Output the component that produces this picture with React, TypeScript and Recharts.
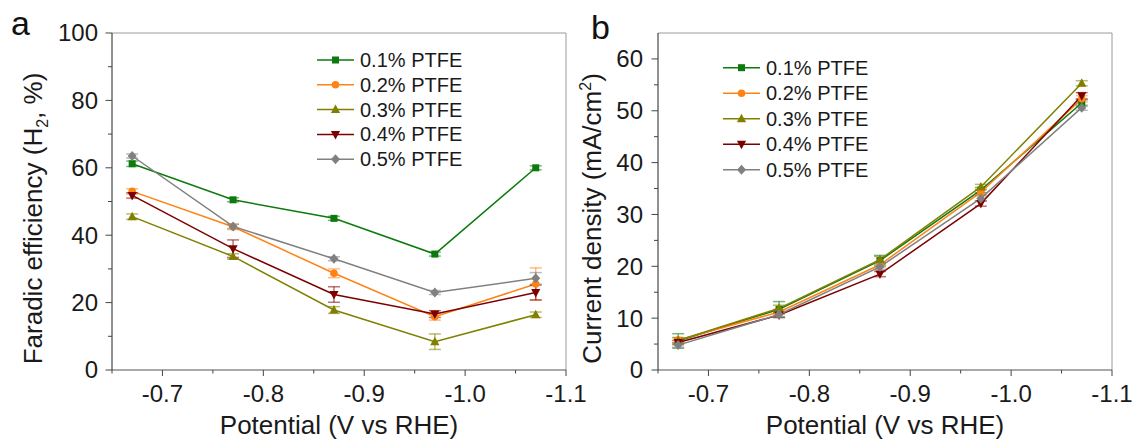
import { ErrorBar, Line, LineChart, ReferenceLine, XAxis, YAxis } from "recharts";

const FONT = "Arial, 'Liberation Sans', sans-serif";

const POTENTIAL = [-0.67, -0.77, -0.87, -0.97, -1.07];
const SERIES_NAMES = ["0.1% PTFE", "0.2% PTFE", "0.3% PTFE", "0.4% PTFE", "0.5% PTFE"];
const COLORS = ["#0c7a0c", "#ff8214", "#808000", "#7d0000", "#808080"];
const SHAPES = ["square", "circle", "triangle", "triangleDown", "diamond"];

// faradic efficiency of H2 (%)
const FE_01 = [61.2, 50.5, 45.0, 34.4, 60.0];
const FE_02 = [53.0, 42.5, 28.7, 15.8, 25.5];
const FE_03 = [45.5, 33.7, 17.8, 8.4, 16.4];
const FE_04 = [51.8, 36.0, 22.4, 16.6, 23.0];
const FE_05 = [63.5, 42.6, 33.0, 23.0, 27.2];
const FE_ERR_01 = [0.8, 0.6, 0.6, 0.6, 0.6];
const FE_ERR_02 = [0.8, 0.8, 1.3, 1.0, 4.8];
const FE_ERR_03 = [0.8, 0.8, 1.0, 2.3, 0.8];
const FE_ERR_04 = [0.8, 2.6, 2.3, 1.0, 2.2];
const FE_ERR_05 = [0.6, 0.6, 0.6, 0.6, 1.7];

// current density (mA/cm2)
const J_01 = [5.6, 11.7, 21.1, 34.7, 51.5];
const J_02 = [5.8, 11.2, 20.3, 34.3, 52.3];
const J_03 = [5.7, 11.9, 21.3, 35.3, 55.3];
const J_04 = [5.3, 10.6, 18.5, 32.1, 52.9];
const J_05 = [4.8, 10.7, 19.9, 33.1, 50.6];
const J_ERR_01 = [1.4, 1.5, 1.0, 0.5, 0.6];
const J_ERR_02 = [0.5, 0.5, 0.5, 0.5, 0.6];
const J_ERR_03 = [0.5, 0.6, 0.6, 0.5, 0.5];
const J_ERR_04 = [0.4, 0.5, 0.5, 0.5, 0.6];
const J_ERR_05 = [0.4, 0.5, 0.5, 0.5, 0.5];

const X_TICKS = [-0.65, -0.7, -0.75, -0.8, -0.85, -0.9, -0.95, -1.0, -1.05, -1.1];
const FE_TICKS = [0, 10, 20, 30, 40, 50, 60, 70, 80, 90, 100];
const J_TICKS = [0, 5, 10, 15, 20, 25, 30, 35, 40, 45, 50, 55, 60];

function buildRows(values: number[][], errors: number[][]) {
  return POTENTIAL.map((v, i) => {
    const row: Record<string, number> = { v };
    values.forEach((s, k) => {
      row[`s${k}`] = s[i];
      row[`e${k}`] = errors[k][i];
    });
    return row;
  });
}

const feRows = buildRows([FE_01, FE_02, FE_03, FE_04, FE_05], [FE_ERR_01, FE_ERR_02, FE_ERR_03, FE_ERR_04, FE_ERR_05]);
const jRows = buildRows([J_01, J_02, J_03, J_04, J_05], [J_ERR_01, J_ERR_02, J_ERR_03, J_ERR_04, J_ERR_05]);

function Marker({ shape, cx, cy, color }: { shape: string; cx: number; cy: number; color: string }) {
  if (shape === "square") return <rect x={cx - 3.5} y={cy - 3.5} width={7} height={7} fill={color} />;
  if (shape === "circle") return <circle cx={cx} cy={cy} r={3.8} fill={color} />;
  if (shape === "triangle")
    return <polygon points={`${cx},${cy - 5} ${cx - 4.6},${cy + 3.5} ${cx + 4.6},${cy + 3.5}`} fill={color} />;
  if (shape === "triangleDown")
    return <polygon points={`${cx},${cy + 5} ${cx - 4.6},${cy - 3.5} ${cx + 4.6},${cy - 3.5}`} fill={color} />;
  return <polygon points={`${cx},${cy - 5} ${cx + 4.5},${cy} ${cx},${cy + 5} ${cx - 4.5},${cy}`} fill={color} />;
}

const xTick = (props: any) => {
  const { x, y, payload } = props;
  const v = payload.value as number;
  const major = Math.round(Math.abs(v) * 100) % 10 === 0;
  return (
    <g>
      <line x1={x} x2={x} y1={y} y2={y + (major ? 6 : 3.5)} stroke="#444" />
      {major && (
        <text x={x} y={y + 32} textAnchor="middle" fontSize={24} fill="#1a1a1a" fontFamily={FONT}>
          {v.toFixed(1)}
        </text>
      )}
    </g>
  );
};

const makeYTick = (step: number, gap: number) => (props: any) => {
  const { x, y, payload } = props;
  const v = payload.value as number;
  const major = v % step === 0;
  return (
    <g>
      <line x1={x} x2={x - (major ? 6.5 : 4)} y1={y} y2={y} stroke="#444" />
      {major && (
        <text x={x - gap} y={y} dy="0.35em" textAnchor="end" fontSize={24} fill="#1a1a1a" fontFamily={FONT}>
          {v}
        </text>
      )}
    </g>
  );
};

const xTitle = (props: any) => {
  const vb = props.viewBox;
  return (
    <text x={vb.x + vb.width / 2} y={434} textAnchor="middle" fontSize={26} fill="#1a1a1a" fontFamily={FONT}>
      Potential (V vs RHE)
    </text>
  );
};

const feTitle = (props: any) => {
  const vb = props.viewBox;
  const cx = vb.x + 33;
  const cy = vb.y + vb.height / 2 + 17;
  return (
    <text x={cx} y={cy} dy="0.35em" textAnchor="middle" fontSize={26} fill="#1a1a1a" fontFamily={FONT} transform={`rotate(-90, ${cx}, ${cy})`}>
      Faradic efficiency (H
      <tspan fontSize={16} dy={6}>2</tspan>
      <tspan dy={-6}>, %)</tspan>
    </text>
  );
};

const jTitle = (props: any) => {
  const vb = props.viewBox;
  const cx = vb.x + 32;
  const cy = vb.y + vb.height / 2 + 17;
  return (
    <text x={cx} y={cy} dy="0.35em" textAnchor="middle" fontSize={26} fill="#1a1a1a" fontFamily={FONT} transform={`rotate(-90, ${cx}, ${cy})`}>
      Current density (mA/cm
      <tspan fontSize={16} dy={-10}>2</tspan>
      <tspan dy={10}>)</tspan>
    </text>
  );
};

function Panel({
  left,
  width,
  yWidth,
  marginRight,
  rows,
  yMax,
  yTicks,
  yStep,
  yGap,
  title,
}: {
  left: number;
  width: number;
  yWidth: number;
  marginRight: number;
  rows: Record<string, number>[];
  yMax: number;
  yTicks: number[];
  yStep: number;
  yGap: number;
  title: (props: any) => any;
}) {
  return (
    <div style={{ position: "absolute", left, top: 0 }}>
      <LineChart width={width} height={441} data={rows} margin={{ top: 33, right: marginRight, bottom: 0, left: 0 }}>
        <XAxis
          dataKey="v"
          type="number"
          domain={[-1.1, -0.65]}
          reversed
          allowDataOverflow
          ticks={X_TICKS}
          interval={0}
          tickSize={0}
          tickMargin={0}
          tickLine={false}
          tick={xTick}
          axisLine={{ stroke: "#555" }}
          height={71}
          label={{ content: xTitle }}
        />
        <YAxis
          type="number"
          domain={[0, yMax]}
          allowDataOverflow
          ticks={yTicks}
          interval={0}
          tickSize={0}
          tickMargin={0}
          tickLine={false}
          tick={makeYTick(yStep, yGap)}
          axisLine={{ stroke: "#222" }}
          width={yWidth}
          label={{ content: title }}
        />
        <ReferenceLine y={yMax} stroke="#9a9a9a" ifOverflow="visible" />
        <ReferenceLine x={-1.1} stroke="#9a9a9a" ifOverflow="visible" />
        {SERIES_NAMES.map((name, k) => (
          <Line
            key={name}
            name={name}
            dataKey={`s${k}`}
            stroke={COLORS[k]}
            strokeWidth={1.5}
            activeDot={false}
            isAnimationActive={false}
            dot={(p: any) => <Marker key={`${name}-${p.index}`} shape={SHAPES[k]} cx={p.cx} cy={p.cy} color={COLORS[k]} />}
          >
            <ErrorBar dataKey={`e${k}`} width={6} stroke={COLORS[k]} strokeOpacity={0.55} direction="y" isAnimationActive={false} />
          </Line>
        ))}
      </LineChart>
    </div>
  );
}

function LegendBox({ x0, y0, gap }: { x0: number; y0: number; gap: number }) {
  return (
    <g>
      {SERIES_NAMES.map((name, k) => {
        const y = y0 + k * gap;
        return (
          <g key={name}>
            <line x1={x0} x2={x0 + 37} y1={y} y2={y} stroke={COLORS[k]} strokeWidth={1.5} />
            <Marker shape={SHAPES[k]} cx={x0 + 18.5} cy={y} color={COLORS[k]} />
            <text x={x0 + 43} y={y + 7} fontSize={20} fill="#1a1a1a" fontFamily={FONT}>
              {name}
            </text>
          </g>
        );
      })}
    </g>
  );
}

export default function App() {
  return (
    <div style={{ position: "absolute", left: 0, top: 0, width: 1139, height: 441, background: "#fff", fontFamily: FONT }}>
      <Panel left={0} width={600} yWidth={112} marginRight={34} rows={feRows} yMax={100} yTicks={FE_TICKS} yStep={20} yGap={14} title={feTitle} />
      <Panel left={560} width={579} yWidth={98} marginRight={27} rows={jRows} yMax={65} yTicks={J_TICKS} yStep={10} yGap={15} title={jTitle} />
      <svg width={1139} height={441} style={{ position: "absolute", left: 0, top: 0, pointerEvents: "none" }}>
        <text x={11} y={35} fontSize={34} fill="#111" fontFamily={FONT}>
          a
        </text>
        <text x={591} y={39} fontSize={34} fill="#111" fontFamily={FONT}>
          b
        </text>
        <LegendBox x0={317} y0={60} gap={24.8} />
        <LegendBox x0={723} y0={67.7} gap={25.5} />
      </svg>
    </div>
  );
}
